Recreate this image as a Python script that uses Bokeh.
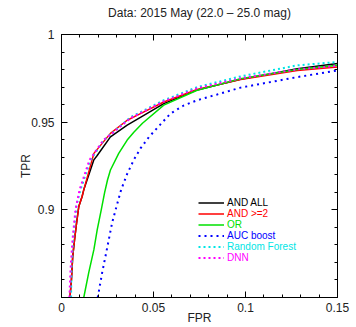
import numpy as np
from bokeh.plotting import figure
from bokeh.models import (Range1d, LinearAxis, FixedTicker, CustomJSTickFormatter,
                          Legend, LegendItem, CustomLabelingPolicy)
from bokeh.embed import file_html
from bokeh.resources import INLINE

# ---------------- data ----------------
and_all_fpr = [0.0046, 0.0054, 0.0061, 0.0071, 0.0082, 0.0094, 0.0112, 0.0121, 0.0176, 0.0194,
               0.0266, 0.0357, 0.0429, 0.0556, 0.0737, 0.0973, 0.1281, 0.15]
and_all_tpr = [0.85, 0.8602, 0.8735, 0.883, 0.8926, 0.9019, 0.9076, 0.9114, 0.9285, 0.931,
               0.9416, 0.9483, 0.9527, 0.9606, 0.9684, 0.9744, 0.9805, 0.9834]

and2_fpr = [0.0046, 0.0054, 0.0061, 0.0071, 0.0082, 0.0094, 0.0112, 0.0121, 0.0176,
            0.0266, 0.0357, 0.0429, 0.0556, 0.0737, 0.0973, 0.1281, 0.15]
and2_tpr = [0.85, 0.8602, 0.8735, 0.883, 0.8926, 0.9019, 0.9076, 0.9114, 0.9322,
            0.9436, 0.9511, 0.9549, 0.9615, 0.9686, 0.9743, 0.9795, 0.9814]

or_fpr = [0.0121, 0.0148, 0.0176, 0.0194, 0.0216, 0.0234, 0.025, 0.0266, 0.0311, 0.0357,
          0.0393, 0.044, 0.0556, 0.0737, 0.0973, 0.1281, 0.15]
or_tpr = [0.85, 0.8642, 0.8773, 0.8886, 0.9, 0.9097, 0.917, 0.9227, 0.9322, 0.9398,
          0.9443, 0.9494, 0.9597, 0.9682, 0.9748, 0.98, 0.9824]

auc_fpr = [0.0197, 0.0221, 0.0239, 0.0257, 0.0275, 0.0299, 0.0324, 0.0357, 0.0393, 0.0429,
           0.0475, 0.052, 0.0592, 0.0664, 0.0737, 0.0846, 0.0973, 0.1281, 0.15]
auc_tpr = [0.85, 0.8642, 0.8735, 0.883, 0.8926, 0.9019, 0.9114, 0.9205, 0.9285, 0.935,
           0.9415, 0.9467, 0.9549, 0.9595, 0.9625, 0.9658, 0.9697, 0.9757, 0.9795]

rf_fpr = [0.0052, 0.0054, 0.0065, 0.0082, 0.0103, 0.0158, 0.023, 0.0284, 0.0375, 0.0556,
          0.0737, 0.0973, 0.1281, 0.15]
rf_tpr = [0.85, 0.866, 0.8858, 0.9028, 0.9114, 0.9284, 0.9398, 0.9445, 0.9528, 0.9625,
          0.97, 0.9761, 0.9824, 0.9843]

dnn_fpr = [0.0043, 0.0049, 0.006, 0.0076, 0.0098, 0.0152, 0.0228, 0.0284, 0.0375, 0.0556,
           0.0737, 0.0973, 0.1281, 0.15]
dnn_tpr = [0.85, 0.866, 0.883, 0.9, 0.9114, 0.9284, 0.9398, 0.9443, 0.9523, 0.9619,
           0.9693, 0.975, 0.9801, 0.9821]

x_major = [0, 0.05, 0.1, 0.15]
y_major = [0.9, 0.95, 1.0]

FONT = "Liberation Sans"
TXT = "#222222"

p = figure(width=356, height=327, output_backend="svg", toolbar_location=None,
           x_range=Range1d(0, 0.15), y_range=Range1d(0.85, 1.0),
           min_border_left=61, min_border_right=19, min_border_top=34, min_border_bottom=29,
           title="Data: 2015 May (22.0 \u2013 25.0 mag)")
p.title.align = "center"
p.title.text_font = FONT
p.title.text_font_size = "12px"
p.title.text_font_style = "normal"
p.title.text_color = TXT
p.title.standoff = 7

p.grid.visible = False
p.outline_line_color = "black"
p.background_fill_color = "white"
p.border_fill_color = "white"

x_minor = [round(v, 2) for v in np.arange(0.01, 0.15, 0.01) if round(v * 100) % 5 != 0]
y_minor = [round(v, 2) for v in np.arange(0.86, 1.0, 0.01) if round(v * 100) % 5 != 0]
fmt = CustomJSTickFormatter(code="return String(parseFloat(tick.toFixed(4)));")
no_labels = CustomLabelingPolicy(
    code="for (let i = 0; i < indices.size; i++) { indices.unset(i) } return indices;")


def style_axis(ax, ticks, minor, labels=True, mirror_font="11px"):
    ax.ticker = FixedTicker(ticks=ticks, minor_ticks=minor)
    ax.major_tick_in = 6
    ax.major_tick_out = 0
    ax.minor_tick_in = 3
    ax.minor_tick_out = 0
    ax.axis_line_color = "black"
    ax.major_tick_line_color = "black"
    ax.minor_tick_line_color = "black"
    ax.major_label_text_font = FONT
    ax.major_label_text_color = TXT
    ax.formatter = fmt
    if labels:
        ax.major_label_text_font_size = "12px"
        ax.axis_label_text_font = FONT
        ax.axis_label_text_font_size = "12px"
        ax.axis_label_text_font_style = "normal"
        ax.axis_label_text_color = TXT
    else:
        ax.major_label_policy = no_labels
        ax.major_label_standoff = 0
        ax.major_label_text_font_size = mirror_font


style_axis(p.xaxis[0], x_major, x_minor)
style_axis(p.yaxis[0], y_major, y_minor)
p.xaxis[0].axis_label = "FPR"
p.yaxis[0].axis_label = "TPR"
p.xaxis[0].major_label_standoff = 5
p.xaxis[0].axis_label_standoff = -4
p.yaxis[0].major_label_standoff = 7
p.yaxis[0].axis_label_standoff = -5

top_ax = LinearAxis()
style_axis(top_ax, x_major, x_minor, labels=False)
p.add_layout(top_ax, "above")
right_ax = LinearAxis()
style_axis(right_ax, y_major, y_minor, labels=False, mirror_font="1px")
p.add_layout(right_ax, "right")

series = [
    ("AND ALL", and_all_fpr, and_all_tpr, "#000000", "solid", 1.5),
    ("AND >=2", and2_fpr, and2_tpr, "#ff0000", "solid", 1.5),
    ("OR", or_fpr, or_tpr, "#00e000", "solid", 1.5),
    ("AUC boost", auc_fpr, auc_tpr, "#0000ff", "2 4", 2),
    ("Random Forest", rf_fpr, rf_tpr, "#00e5e5", "2 3", 2),
    ("DNN", dnn_fpr, dnn_tpr, "#ff00ff", "2 3", 2),
]

row_y = [94, 83, 72, 61, 50, 39]
for (name, xs, ys, col, dash, w), ry in zip(series, row_y):
    r = p.line(xs, ys, line_color=col, line_width=w, line_dash=dash)
    leg = Legend(items=[LegendItem(label=name, renderers=[r])],
                 location=(137, ry - 5), orientation="vertical",
                 background_fill_alpha=0, border_line_alpha=0,
                 padding=0, margin=0, spacing=0,
                 glyph_width=26, glyph_height=11, label_height=11, label_width=10,
                 label_standoff=3, label_text_font=FONT, label_text_font_size="10px",
                 label_text_color=col, label_text_baseline="middle",
                 click_policy="none")
    p.add_layout(leg, "center")

open("out.html", "w").write(file_html(p, INLINE))
